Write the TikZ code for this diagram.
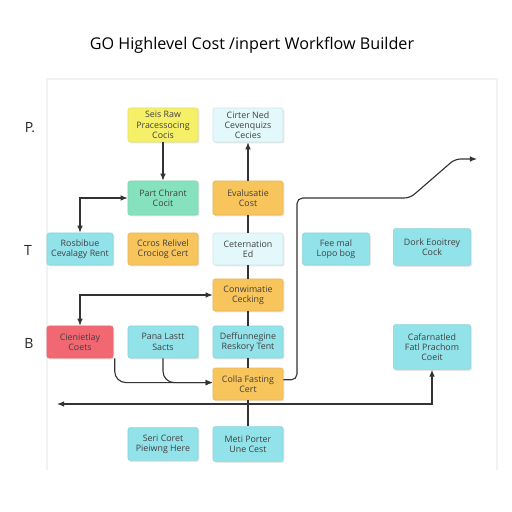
\documentclass[tikz,border=0pt]{standalone}
\usepackage{fontspec}
\setmainfont{Open Sans}
\usetikzlibrary{arrows.meta,shadows}

\definecolor{boxyellow}{RGB}{246,240,104}
\definecolor{boxpale}{RGB}{226,248,250}
\definecolor{boxmint}{RGB}{134,226,190}
\definecolor{boxorange}{RGB}{248,196,92}
\definecolor{boxcyan}{RGB}{146,226,234}
\definecolor{boxred}{RGB}{242,104,114}

\tikzset{
  box/.style={fill=#1, draw=#1!85!gray, rounded corners=1.5pt,
    minimum width=1.75cm, minimum height=0.85cm, align=center, inner sep=1pt,
    font=\fontsize{6.3}{7.3}\selectfont, text=black!75,
    drop shadow={opacity=0.2, shadow xshift=1pt, shadow yshift=-1pt}},
  link/.style={draw=black!80, line width=0.8pt},
  arr/.style={link, -{Latex[length=5pt,width=4pt]}},
  darr/.style={link, {Latex[length=5pt,width=4pt]}-{Latex[length=5pt,width=4pt]}},
  rowlabel/.style={font=\fontsize{10}{12}\selectfont, text=black!85}
}

\begin{document}
\begin{tikzpicture}[x=0.025cm, y=-0.025cm]
\useasboundingbox (0,0) rectangle (512,512);

\def\xl{80};
\def\xa{163};
\def\xb{248};
\def\xc{336};
\def\xd{432};

\def\yp{125};
\def\yq{198};
\def\yt{249};
\def\yc{295};
\def\yb{342};
\def\ye{384};
\def\yf{444};

% frame and title
\draw[black!5, line width=0.8pt] (47,470) -- (47,79) -- (497,79) -- (497,470);
\node (title) at (252,45) {\fontsize{11.5}{13}\selectfont GO Highlevel Cost /inpert Workflow Builder};

\node[rowlabel] (labp) at (30,128) {P.};
\node[rowlabel] (labt) at (28,250) {T};
\node[rowlabel] (labb) at (29,343) {B};

% top rows
\node[box=boxyellow] (seisraw) at (\xa,\yp) {Seis Raw\\Pracessocing\\Cocis};
\node[box=boxpale] (cirter) at (\xb,\yp) {Cirter Ned\\Cevenquizs\\Cecies};
\node[box=boxmint] (partchrant) at (\xa,\yq) {Part Chrant\\Cocit};
\node[box=boxorange] (evalcost) at (\xb,\yq) {Evalusatie\\Cost};

\node[box=boxcyan, minimum width=1.65cm, minimum height=0.8cm] (rosbibue) at (\xl,\yt) {Rosbibue\\Cevalagy Rent};
\node[box=boxorange, minimum height=0.8cm] (ccros) at (\xa,\yt) {Ccros Relivel\\Crociog Cert};
\node[box=boxpale, minimum height=0.8cm] (ceternation) at (\xb,\yt) {Ceternation\\Ed};
\node[box=boxcyan, minimum width=1.68cm, minimum height=0.8cm] (feemal) at (\xc,\yt) {Fee mal\\Lopo bog};
\node[box=boxcyan, minimum width=1.93cm, minimum height=0.92cm] (dork) at (\xd,247) {Dork Eooitrey\\Cock};

\node[box=boxorange, minimum height=0.8cm] (conwim) at (\xb,\yc) {Conwimatie\\Cecking};

% bottom rows
\node[box=boxred, minimum width=1.65cm, minimum height=0.8cm] (cienietlay) at (\xl,\yb) {Cienietlay\\Coets};
\node[box=boxcyan, minimum height=0.8cm] (pana) at (\xa,\yb) {Pana Lastt\\Sacts};
\node[box=boxcyan, minimum height=0.8cm] (deffun) at (\xb,\yb) {Deffunnegine\\Reskory Tent};
\node[box=boxcyan, minimum width=1.93cm, minimum height=1.12cm] (cafarn) at (\xd,347) {Cafarnatled\\Fatl Prachom\\Coeit};
\node[box=boxorange, minimum height=0.8cm] (colla) at (\xb,\ye) {Colla Fasting\\Cert};

\node[box=boxcyan, minimum height=0.82cm] (seri) at (\xa,\yf) {Seri Coret\\Pieiwng Here};
\node[box=boxcyan, minimum height=0.87cm] (meti) at (\xb,\yf) {Meti Porter\\Une Cest};

% connectors
\coordinate (kinka) at (297,198);
\coordinate (kinkb) at (410,198);
\coordinate (kinkc) at (455,159);
\coordinate (outr) at (477,159);
\coordinate (outl) at (57,404);

\draw[arr] (seisraw) -- (partchrant);
\draw[arr] (evalcost) -- (cirter);
\draw[link] (evalcost) -- (ceternation);
\draw[link] (ceternation) -- (conwim);
\draw[link] (conwim) -- (deffun);
\draw[link] (deffun) -- (colla);
\draw[link] (colla) -- (meti);

\draw[darr] (rosbibue.north) |- (partchrant.west);
\draw[darr] (cienietlay.north) |- (conwim.west);

\draw[arr, rounded corners=8pt] ([xshift=1pt]cienietlay.south east) |- ([yshift=1pt]colla.west);
\draw[arr, rounded corners=8pt] (pana.south) |- ([yshift=1pt]colla.west);

\draw[arr, rounded corners=4pt] ([yshift=3pt]colla.east) -| (kinka) -- (kinkb) -- (kinkc) -- (outr);
\draw[darr] (outl) -| (cafarn.south);

\end{tikzpicture}
\end{document}
